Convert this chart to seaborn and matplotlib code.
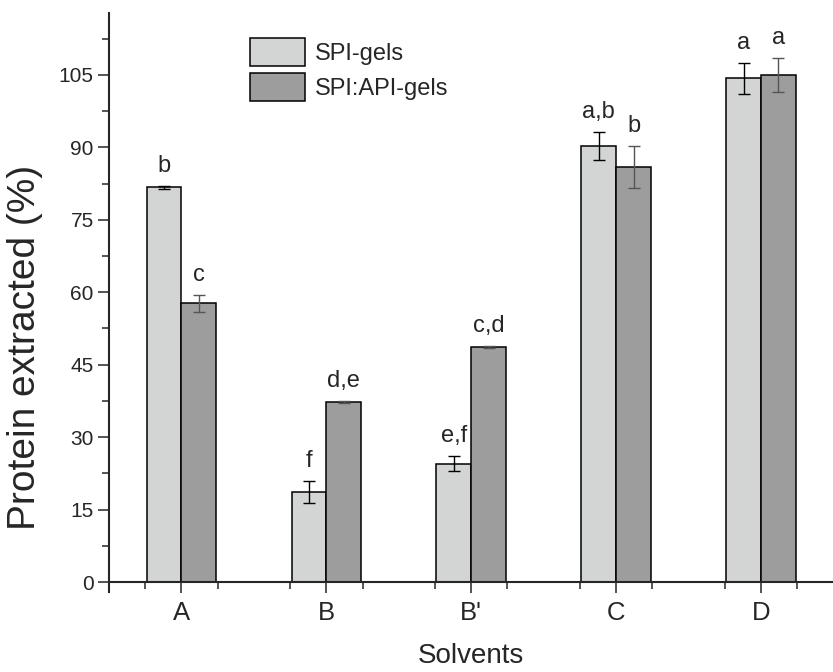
import matplotlib
matplotlib.use("Agg")
import matplotlib.pyplot as plt
from matplotlib.ticker import FixedLocator
import seaborn as sns
import pandas as pd

sns.set_style("ticks")
plt.rcParams['font.family'] = ['Liberation Sans', 'DejaVu Sans']

# data
solvents = ['A', 'B', "B'", 'C', 'D']
series = ['SPI-gels', 'SPI:API-gels']
spi_mean = [81.7, 18.6, 24.5, 90.3, 104.3]
spi_err = [0.3, 2.3, 1.6, 2.9, 3.2]
api_mean = [57.7, 37.2, 48.7, 85.9, 105.0]
api_err = [1.7, 0.2, 0.2, 4.3, 3.5]
spi_letters = ['b', 'f', 'e,f', 'a,b', 'a']
api_letters = ['c', 'd,e', 'c,d', 'b', 'a']

df = pd.DataFrame({
    'solvent': solvents * 2,
    'group': [series[0]] * 5 + [series[1]] * 5,
    'value': spi_mean + api_mean,
})

fig = plt.figure(figsize=(8.33, 6.72), dpi=100)
ax = fig.add_axes([109 / 833, 80 / 672, 724.5 / 833, 579 / 672])

sns.barplot(data=df, x='solvent', y='value', hue='group', order=solvents,
            hue_order=series, palette=['#d3d4d4', '#9d9d9d'], width=0.48,
            edgecolor='black', linewidth=1.1, errorbar=None, ax=ax,
            saturation=1)

errs = [spi_err, api_err]
means = [spi_mean, api_mean]
letters = [spi_letters, api_letters]
ecolors = ['black', '#555555']
bar_conts = list(ax.containers)
for k, cont in enumerate(bar_conts):
    xs = [p.get_x() + p.get_width() / 2 for p in cont.patches]
    ax.errorbar(xs, means[k], yerr=errs[k], fmt='none', ecolor=ecolors[k],
                elinewidth=1.0, capsize=4.2, capthick=1.0, zorder=5)
    for x, m, e, t in zip(xs, means[k], errs[k], letters[k]):
        ax.annotate(t, (x, m + e), xytext=(0, 10), textcoords='offset points',
                    ha='center', va='baseline', fontsize=17)

ax.set_xlim(-0.5, 4.5)
ax.set_ylim(-2.07, 117.8)
ax.spines['top'].set_visible(False)
ax.spines['right'].set_visible(False)
ax.spines['bottom'].set_position(('data', 0))
ax.spines['left'].set_linewidth(1.5)
ax.spines['bottom'].set_linewidth(1.5)

ax.yaxis.set_major_locator(FixedLocator(range(0, 106, 15)))
ax.yaxis.set_minor_locator(FixedLocator([7.5 + 15 * i for i in range(8)]))
ax.xaxis.set_minor_locator(FixedLocator([i + d for i in range(5) for d in (-0.25, 0.25)]))
ax.tick_params(axis='both', which='major', direction='out', length=8, width=1.1)
ax.tick_params(axis='both', which='minor', direction='out', length=5, width=1.1)
ax.tick_params(axis='y', which='major', labelsize=15, pad=3)
ax.tick_params(axis='x', which='major', labelsize=18.5, pad=6)

ax.set_ylabel('Protein extracted (%)', fontsize=28)
ax.yaxis.set_label_coords(-0.091, 0.423)
ax.set_xlabel('Solvents', fontsize=20)
ax.xaxis.set_label_coords(0.5, -0.088)

handles, labels = ax.get_legend_handles_labels()
ax.legend(handles, labels, loc='upper left', bbox_to_anchor=(0.1946, 0.957),
          frameon=False, fontsize=17, borderpad=0, handlelength=2.33,
          handleheight=1.45, labelspacing=0.3, handletextpad=0.4,
          borderaxespad=0)

fig.savefig('out.png', dpi=100)
